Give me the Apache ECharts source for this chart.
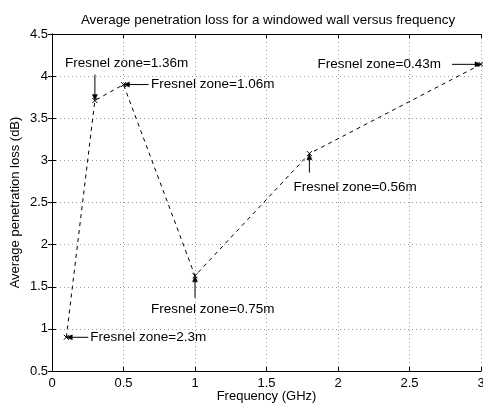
<!DOCTYPE html>
<html><head><meta charset="utf-8">
<script src="https://cdn.jsdelivr.net/npm/echarts@6/dist/echarts.min.js"></script>
<style>html,body{margin:0;padding:0;background:#fff}#c{width:483px;height:403px}</style>
</head><body><div id="c"></div>
<script>
const freq = [0.1, 0.3, 0.5, 1, 1.8, 3];
const loss = [0.9, 3.71, 3.9, 1.63, 3.08, 4.14];
const annLabels = ['Fresnel zone=2.3m', 'Fresnel zone=1.36m', 'Fresnel zone=1.06m',
                   'Fresnel zone=0.75m', 'Fresnel zone=0.56m', 'Fresnel zone=0.43m'];
const titleText = 'Average penetration loss for a windowed wall versus frequency';
const xName = 'Frequency (GHz)';
const yName = 'Average penetration loss (dB)';

// layout of annotations (pixels relative to the point): tail offset, text pos, align
const annLayout = [
  {tx: 22, ty: 0, lx: 24, ly: 0, align: 'left'},
  {tx: 0, ty: -26, lx: -30, ly: -37, align: 'left'},
  {tx: 25, ty: 0, lx: 27.5, ly: 0, align: 'left'},
  {tx: 0, ty: 22, lx: -44, ly: 33, align: 'left'},
  {tx: 0, ty: 19, lx: -16, ly: 34, align: 'left'},
  {tx: -29, ty: 0, lx: -40, ly: 0, align: 'right'}
];
const FONT = 'Liberation Sans, Arial, Helvetica, sans-serif';
const FS = 13;
const FS_ANN = 13.5;

const chart = echarts.init(document.getElementById('c'));
const axisCommon = {
  axisLine: {show: true, lineStyle: {color: '#000', width: 1}},
  axisTick: {show: true, inside: true, length: 4, lineStyle: {color: '#000'}},
  splitLine: {show: false}
};
const gridLine = {splitLine: {show: true, lineStyle: {color: '#999', type: [1, 3], width: 1}}};
chart.setOption({
  animation: false,
  title: {text: titleText, left: 263, top: 9, textAlign: 'center',
    textStyle: {fontFamily: FONT, fontSize: 13.4, fontWeight: 'normal', color: '#000'}},
  grid: {left: 52, right: 2, top: 34, bottom: 32, outerBoundsMode: 'none', containLabel: false},
  xAxis: [
    Object.assign({type: 'value', min: 0, max: 3, interval: 0.5, position: 'bottom',
      name: xName, nameLocation: 'middle', nameGap: 19, nameMoveOverlap: false,
      nameTextStyle: {fontFamily: FONT, fontSize: FS, color: '#000'},
      axisLabel: {fontFamily: FONT, fontSize: FS, color: '#000', margin: 6}
      }, axisCommon, gridLine),
    Object.assign({type: 'value', min: 0, max: 3, interval: 0.5, position: 'top',
      axisLabel: {show: false}}, axisCommon)
  ],
  yAxis: [
    Object.assign({type: 'value', min: 0.5, max: 4.5, interval: 0.5, position: 'left',
      name: yName, nameLocation: 'middle', nameGap: 30, nameMoveOverlap: false,
      nameTextStyle: {fontFamily: FONT, fontSize: FS, color: '#000'},
      axisLabel: {fontFamily: FONT, fontSize: FS, color: '#000', margin: 4}
      }, axisCommon, gridLine),
    Object.assign({type: 'value', min: 0.5, max: 4.5, interval: 0.5, position: 'right',
      axisLabel: {show: false}}, axisCommon)
  ],
  series: [
    {
      type: 'line',
      data: freq.map((f, i) => [f, loss[i]]),
      lineStyle: {color: '#000', width: 1, type: [4, 4]},
      symbol: 'path://M0,0L10,10M10,0L0,10',
      symbolSize: 5,
      itemStyle: {color: 'none', borderColor: '#000', borderWidth: 1},
      showSymbol: true
    },
    {
      type: 'custom',
      clip: false,
      z: 5,
      data: freq.map((f, i) => [f, loss[i], i]),
      renderItem: function (params, api) {
        const p = api.coord([api.value(0), api.value(1)]);
        const i = api.value(2);
        const L = annLayout[i];
        const tail = [p[0] + L.tx, p[1] + L.ty];
        const dx = p[0] - tail[0], dy = p[1] - tail[1];
        const len = Math.sqrt(dx * dx + dy * dy);
        const ux = dx / len, uy = dy / len;
        const ah = 6, aw = 2.5;
        const base = [p[0] - ux * ah, p[1] - uy * ah];
        const head = [
          [p[0], p[1]],
          [base[0] - uy * aw, base[1] + ux * aw],
          [base[0] + uy * aw, base[1] - ux * aw]
        ];
        return {
          type: 'group',
          children: [
            {type: 'line', shape: {x1: tail[0], y1: tail[1], x2: base[0], y2: base[1]},
              style: {stroke: '#000', lineWidth: 1}},
            {type: 'polygon', shape: {points: head}, style: {fill: '#000', stroke: '#000', lineWidth: 0.5}},
            {type: 'text', x: p[0] + L.lx, y: p[1] + L.ly,
              style: {text: annLabels[i], fill: '#000', font: FS_ANN + 'px ' + FONT,
                align: L.align, verticalAlign: 'middle'}}
          ]
        };
      }
    }
  ]
});
</script></body></html>
